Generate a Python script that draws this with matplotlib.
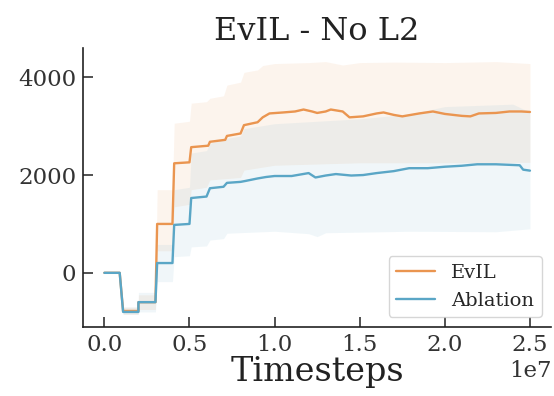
import numpy as np
import matplotlib
matplotlib.use('Agg')
import matplotlib.pyplot as plt
import seaborn as sns

# x values in units of 1e7 timesteps
evil_x = [0, 0.09, 0.11, 0.2, 0.2, 0.3, 0.31, 0.4, 0.41, 0.5, 0.51, 0.61, 0.62, 0.71, 0.72, 0.8, 0.82, 0.9, 0.93,
          0.97, 1.05, 1.12, 1.17, 1.22, 1.25, 1.3, 1.33, 1.4, 1.44, 1.52, 1.6, 1.64, 1.7, 1.75, 1.85, 1.93, 2.0,
          2.1, 2.15, 2.2, 2.3, 2.38, 2.45, 2.5]
evil_mean = [0, 0, -780, -780, -600, -600, 1000, 1000, 2240, 2260, 2570, 2600, 2680, 2720, 2800, 2850, 3020, 3080, 3180,
             3260, 3280, 3300, 3340, 3300, 3270, 3300, 3340, 3300, 3180, 3200, 3260, 3280, 3230, 3200, 3260, 3300, 3250,
             3210, 3200, 3260, 3270, 3300, 3300, 3290]

abl_x = [0, 0.09, 0.11, 0.2, 0.2, 0.3, 0.31, 0.4, 0.41, 0.5, 0.51, 0.6, 0.62, 0.7, 0.72, 0.8, 0.83, 0.9, 0.95,
         1.0, 1.1, 1.2, 1.24, 1.3, 1.36, 1.45, 1.52, 1.6, 1.7, 1.79, 1.9, 2.0, 2.1, 2.19, 2.3, 2.44, 2.46, 2.5]
abl_mean = [0, 0, -800, -800, -600, -600, 200, 200, 980, 1000, 1530, 1560, 1730, 1760, 1840, 1860, 1880, 1930, 1960,
            1980, 1980, 2040, 1950, 1990, 2020, 1990, 2000, 2040, 2080, 2140, 2140, 2170, 2190, 2220, 2220, 2200, 2110, 2090]

evil_up_x = [0, 0.09, 0.11, 0.2, 0.2, 0.3, 0.31, 0.4, 0.41, 0.5, 0.51, 0.6, 0.62, 0.7, 0.72, 0.8, 0.82, 0.9, 0.93,
             1.0, 1.2, 1.3, 1.4, 1.5, 1.7, 2.0, 2.3, 2.5]
evil_up = [0, 0, -700, -700, -450, -450, 1700, 1700, 3060, 3100, 3470, 3500, 3570, 3620, 3840, 3900, 4100, 4150, 4240,
           4280, 4300, 4320, 4250, 4300, 4310, 4300, 4320, 4280]
evil_lo_x = [0, 0.09, 0.11, 0.2, 0.2, 0.3, 0.31, 0.4, 0.41, 0.5, 0.51, 0.6, 0.62, 0.8, 0.82, 1.0, 1.5, 2.0, 2.5]
evil_lo = [0, 0, -850, -850, -750, -750, 450, 450, 1350, 1400, 1700, 1750, 1900, 1950, 2100, 2200, 2250, 2250, 2260]

abl_up_x = [0, 0.09, 0.11, 0.2, 0.2, 0.3, 0.31, 0.4, 0.41, 0.5, 0.51, 0.6, 0.62, 0.72, 0.8, 0.82, 1.0, 1.5, 1.8,
            2.0, 2.4, 2.46, 2.5]
abl_up = [0, 0, -700, -700, -400, -400, 580, 580, 1700, 1750, 2450, 2500, 2650, 2750, 2800, 2950, 3050, 3150, 3250,
          3400, 3450, 3350, 3300]
abl_lo_x = [0, 0.09, 0.11, 0.2, 0.2, 0.3, 0.31, 0.4, 0.41, 0.5, 0.51, 0.6, 0.62, 0.7, 0.72, 1.0, 1.2, 1.25, 1.3,
            1.8, 2.3, 2.5]
abl_lo = [0, 0, -850, -850, -800, -800, -180, -180, 330, 350, 530, 550, 670, 700, 810, 850, 800, 740, 820,
          850, 840, 900]

orange = '#EA9550'
blue = '#5AA6C6'

sns.set_style('ticks')
plt.rcParams['font.family'] = ['DejaVu Serif']

fig = plt.figure(figsize=(5.54, 3.96), dpi=100)
ax = fig.add_axes([0.15, 0.174, 0.845, 0.705])

def band(xs, ys, grid):
    return np.interp(grid, np.array(xs) * 1e7, ys)

grid = np.linspace(0, 2.5e7, 2000)
ax.fill_between(grid, band(evil_lo_x, evil_lo, grid), band(evil_up_x, evil_up, grid),
                color=orange, alpha=0.1, linewidth=0)
ax.fill_between(grid, band(abl_lo_x, abl_lo, grid), band(abl_up_x, abl_up, grid),
                color=blue, alpha=0.09, linewidth=0)
ax.plot(np.array(evil_x) * 1e7, evil_mean, color=orange, lw=1.7, label='EvIL')
ax.plot(np.array(abl_x) * 1e7, abl_mean, color=blue, lw=1.7, label='Ablation')

ax.set_xlim(-0.125e7, 2.625e7)
ax.set_ylim(-1110, 4600)
ax.set_yticks([0, 2000, 4000])
ax.set_xticks([0, 0.5e7, 1.0e7, 1.5e7, 2.0e7, 2.5e7])
ax.tick_params(labelsize=16.5, length=7, width=1.2, direction='in', colors='#333333', pad=5)
ax.xaxis.get_offset_text().set_fontsize(16.5)
for s in ['left', 'bottom']:
    ax.spines[s].set_linewidth(1.2)
    ax.spines[s].set_color('#222222')
sns.despine(ax=ax)

ax.set_title('EvIL - No L2', fontsize=23, color='#222222', pad=6)
ax.set_xlabel('Timesteps', fontsize=24, color='#222222', labelpad=0)
leg = ax.legend(loc='lower right', fontsize=14, borderaxespad=0.5)
leg.get_frame().set_edgecolor('#cccccc')

fig.savefig('out.png', dpi=100)
